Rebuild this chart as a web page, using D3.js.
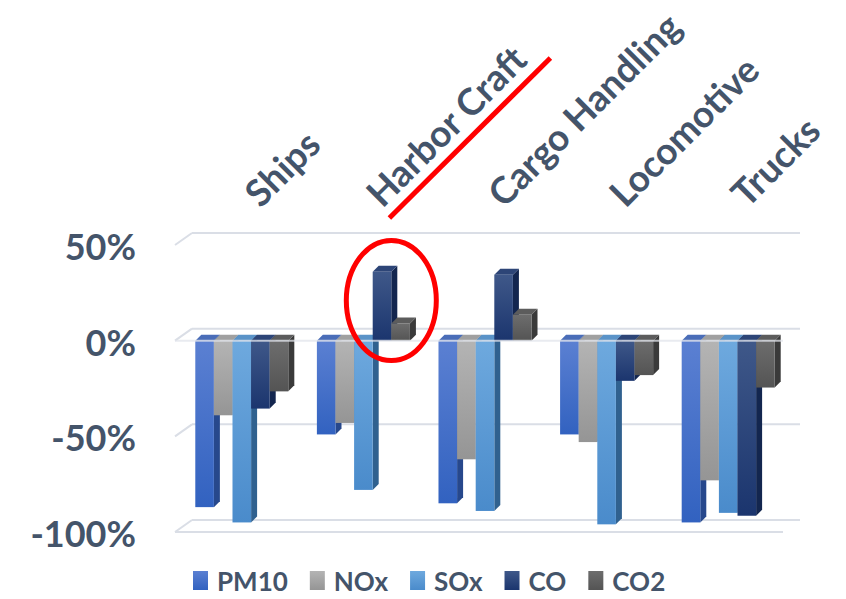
<!DOCTYPE html>
<html>
<head>
<meta charset="utf-8">
<script src="https://cdn.jsdelivr.net/npm/d3@7/dist/d3.min.js"></script>
<style>
  body { margin: 0; background: #fff; }
  text { font-family: Lato, "Open Sans", sans-serif; font-weight: bold; fill: #44546a; }
</style>
</head>
<body>
<svg id="chart" width="846" height="599"></svg>
<script>
// categories, series and values (fraction change)
const categories = ["Ships", "Harbor Craft", "Cargo Handling", "Locomotive", "Trucks"]
const series = ["PM10", "NOx", "SOx", "CO", "CO2"]
const pm10 = [-0.87, -0.49, -0.85, -0.49, -0.95]
const nox  = [-0.39, -0.43, -0.62, -0.53, -0.73]
const sox  = [-0.95, -0.78, -0.89, -0.96, -0.90]
const co   = [-0.355, 0.36, 0.345, -0.21, -0.915]
const co2  = [-0.265, 0.09, 0.135, -0.18, -0.245]
const yTicks = [0.5, 0, -0.5, -1]
const yTickLabels = ["50%", "0%", "-50%", "-100%"]

const values = [pm10, nox, sox, co, co2]

// colours: [front top, front bottom, side, cap]
const colors = {
  PM10: ["#5b80d2", "#3262c0", "#27488c", "#4a6db8"],
  NOx:  ["#b4b4b4", "#959595", "#6e6e6e", "#a0a0a0"],
  SOx:  ["#6ea9de", "#4a8bcb", "#30618f", "#5a93c8"],
  CO:   ["#3f5889", "#1b356e", "#13264f", "#2d4577"],
  CO2:  ["#6d6d6d", "#545454", "#3a3a3a", "#5c5c5c"]
}

const svg = d3.select("#chart")

// set up the scales
var y = d3.scaleLinear().domain([-1, 0.5]).range([532, 245])
var x = d3.scaleBand().domain(categories).range([181, 789])
  .paddingInner(0.235).paddingOuter(0.1175)
var xs = d3.scaleBand().domain(series).range([0, x.bandwidth()])

var plotLeft = 175, plotRight = 783
var wdx = 17, wdy = -12   // wall depth
var bdx = 6, bdy = -6     // bar depth

// gradients
var defs = svg.append("defs")
series.forEach(s => {
  var g = defs.append("linearGradient").attr("id", "g" + s)
    .attr("x1", 0).attr("y1", 0).attr("x2", 0).attr("y2", 1)
  g.append("stop").attr("offset", "0%").attr("stop-color", colors[s][0])
  g.append("stop").attr("offset", "100%").attr("stop-color", colors[s][1])
})

// back wall and side wall gridlines
var grid = svg.append("g").attr("stroke", "#dadee6").attr("stroke-width", 2).attr("fill", "none")
yTicks.forEach(t => {
  grid.append("line")
    .attr("x1", plotLeft + wdx).attr("x2", plotRight + wdx)
    .attr("y1", y(t) + wdy).attr("y2", y(t) + wdy)
  grid.append("line")
    .attr("x1", plotLeft).attr("x2", plotLeft + wdx)
    .attr("y1", y(t)).attr("y2", y(t) + wdy)
})
// floor front edge
grid.append("line")
  .attr("x1", plotLeft).attr("x2", plotRight)
  .attr("y1", y(-1)).attr("y2", y(-1))

// y axis labels
svg.append("g").selectAll("text")
  .data(yTicks)
  .enter()
  .append("text")
  .attr("x", 136)
  .attr("y", d => y(d) + 15)
  .attr("text-anchor", "end")
  .style("font-size", "36px")
  .text((d, i) => yTickLabels[i])

// bars
var bars = svg.append("g")
categories.forEach((c, ci) => {
  series.forEach((s, si) => {
    var v = values[si][ci]
    var x0 = x(c) + xs(s), w = xs.bandwidth()
    var top = y(Math.max(0, v)), bot = y(Math.min(0, v))
    var g = bars.append("g")
    // side face
    g.append("path")
      .attr("d", `M${x0 + w},${top} L${x0 + w + bdx},${top + bdy} L${x0 + w + bdx},${bot + bdy} L${x0 + w},${bot} Z`)
      .attr("fill", colors[s][2])
    // top cap
    g.append("path")
      .attr("d", `M${x0},${top} L${x0 + bdx},${top + bdy} L${x0 + w + bdx},${top + bdy} L${x0 + w},${top} Z`)
      .attr("fill", colors[s][3])
    // front face
    g.append("rect")
      .attr("x", x0).attr("y", top)
      .attr("width", w).attr("height", bot - top)
      .attr("fill", `url(#g${s})`)
  })
})

// category axis line at 0 (front)
svg.append("line")
  .attr("x1", plotLeft).attr("x2", plotRight)
  .attr("y1", y(0)).attr("y2", y(0))
  .attr("stroke", "#e2e5ec").attr("stroke-width", 2).attr("opacity", 0.75)

// category labels, rotated
svg.append("g").selectAll("text")
  .data(categories)
  .enter()
  .append("text")
  .attr("transform", d => "translate(" + (x(d) + x.bandwidth() / 2 + 19) + ",209) rotate(-45)")
  .style("font-size", "37px")
  .text(d => d)

// legend
var legend = svg.append("g")
var lx = 193
series.forEach(s => {
  legend.append("rect")
    .attr("x", lx).attr("y", 571).attr("width", 15).attr("height", 19)
    .attr("fill", `url(#g${s})`)
  var t = legend.append("text")
    .attr("x", lx + 24).attr("y", 591)
    .style("font-size", "26px")
    .text(s)
  lx += 24 + t.node().getComputedTextLength() + 22
})

// red annotations around Harbor Craft
var hc = "Harbor Craft"
svg.append("line")
  .attr("x1", x(hc) + x.bandwidth() / 2 + 26).attr("y1", 218)
  .attr("x2", x(hc) + x.bandwidth() / 2 + 187).attr("y2", 58)
  .attr("stroke", "#ff0000").attr("stroke-width", 5)
svg.append("ellipse")
  .attr("cx", x(hc) + xs("CO") + xs.bandwidth())
  .attr("cy", y(0.21))
  .attr("rx", 45).attr("ry", 60)
  .attr("fill", "none").attr("stroke", "#ff0000").attr("stroke-width", 5)
</script>
</body>
</html>
